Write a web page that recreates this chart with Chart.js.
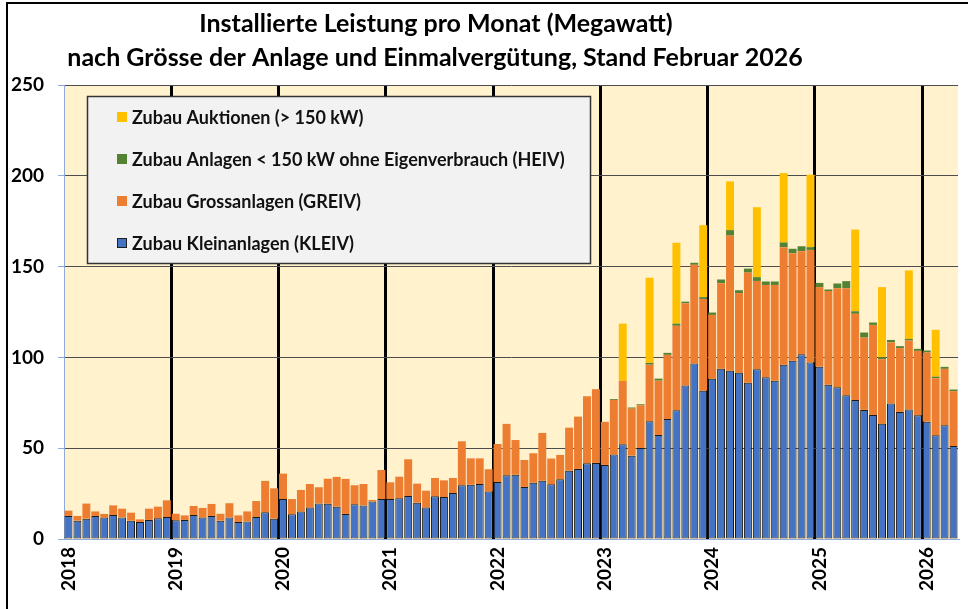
<!DOCTYPE html>
<html>
<head>
<meta charset="utf-8">
<script src="https://cdn.jsdelivr.net/npm/chart.js@4"></script>
<style>
  html, body { margin: 0; background: #fff; }
  canvas { display: block; }
</style>
</head>
<body>
<canvas id="pvChart" width="968" height="609"></canvas>
<script>
// Monthly additions in MW, Jan 2018 .. Apr 2026 (one row per year)
const years = [2018, 2019, 2020, 2021, 2022, 2023, 2024, 2025, 2026];

const kleiv = [
  12.7, 10.1, 11.2, 12.7, 11.8, 13.2, 11.9, 10.1, 9.4, 10.5, 11.4, 12.1,
  10.3, 10.5, 13.2, 11.8, 12.7, 10.1, 11.9, 9.4, 9.7, 12.1, 14.7, 11.2,
  22.0, 13.6, 15.1, 17.3, 19.6, 19.4, 17.8, 13.8, 19.1, 18.5, 20.7, 22.0,
  22.0, 22.4, 23.7, 20.0, 17.3, 23.5, 23.1, 25.3, 29.6, 29.9, 30.3, 26.1,
  31.4, 35.1, 35.4, 28.7, 31.0, 32.1, 30.1, 32.9, 37.6, 38.6, 41.7, 41.9,
  40.8, 46.5, 52.2, 45.9, 50.1, 64.8, 57.3, 66.1, 70.9, 84.5, 96.6, 81.7,
  88.2, 93.8, 92.6, 91.5, 86.1, 93.5, 89.1, 87.1, 95.9, 98.1, 101.7, 97.2,
  94.9, 85.0, 83.6, 79.2, 76.6, 71.1, 68.3, 63.4, 74.6, 70.0, 71.3, 68.1,
  64.6, 57.1, 62.6, 51.2
];

const greiv = [
  2.9, 2.6, 8.3, 2.5, 2.0, 5.3, 4.8, 4.4, 1.4, 6.2, 6.4, 9.2,
  3.6, 2.5, 5.0, 5.3, 6.6, 3.8, 7.8, 3.6, 5.5, 8.8, 17.3, 16.7,
  14.0, 8.4, 11.9, 13.0, 8.9, 13.8, 16.4, 19.3, 10.5, 11.8, 0.8, 16.0,
  9.2, 11.9, 20.2, 10.5, 9.3, 10.1, 9.2, 8.3, 24.2, 14.5, 14.1, 12.3,
  20.9, 28.3, 19.1, 14.8, 16.2, 26.3, 14.2, 13.4, 23.7, 28.8, 36.9, 40.6,
  23.7, 30.1, 34.9, 25.9, 23.5, 31.2, 29.9, 35.3, 46.5, 45.3, 54.4, 50.5,
  35.2, 47.1, 74.5, 43.9, 60.6, 48.6, 50.8, 52.8, 64.8, 59.3, 56.8, 62.0,
  43.8, 51.5, 54.5, 58.9, 47.4, 39.8, 49.6, 35.6, 33.7, 35.1, 38.0, 35.5,
  38.1, 31.4, 31.1, 30.2
];

const heiv = [
  0, 0, 0, 0, 0, 0, 0, 0, 0, 0, 0, 0,
  0, 0, 0, 0, 0, 0, 0, 0, 0, 0, 0, 0,
  0, 0, 0, 0, 0, 0, 0, 0, 0, 0, 0, 0,
  0, 0, 0, 0, 0, 0, 0, 0, 0, 0, 0, 0,
  0, 0, 0, 0, 0, 0, 0, 0, 0, 0, 0, 0,
  0, 0.5, 0, 0.6, 0.6, 1.0, 1.1, 1.1, 1.2, 0.9, 1.1, 1.0,
  1.3, 2.0, 3.0, 1.6, 2.2, 2.1, 1.9, 1.9, 2.6, 2.4, 2.7, 1.5,
  2.3, 0.9, 2.6, 3.9, 1.4, 2.8, 1.3, 1.1, 1.3, 1.1, 0.9, 1.1,
  1.1, 0.9, 1.1, 0.9
];

const auktionen = [
  0, 0, 0, 0, 0, 0, 0, 0, 0, 0, 0, 0,
  0, 0, 0, 0, 0, 0, 0, 0, 0, 0, 0, 0,
  0, 0, 0, 0, 0, 0, 0, 0, 0, 0, 0, 0,
  0, 0, 0, 0, 0, 0, 0, 0, 0, 0, 0, 0,
  0, 0, 0, 0, 0, 0, 0, 0, 0, 0, 0, 0,
  0, 0, 31.5, 0, 0, 46.8, 0, 0, 44.5, 0, 0, 39.6,
  0, 0, 26.8, 0, 0, 38.5, 0, 0, 38.2, 0, 0, 39.9,
  0, 0, 0, 0, 45.0, 0, 0, 38.6, 0, 0, 37.7, 0,
  0, 25.8, 0, 0
];

const seriesNames = [
  'Zubau Kleinanlagen (KLEIV)',
  'Zubau Grossanlagen (GREIV)',
  'Zubau Anlagen < 150 kW ohne Eigenverbrauch (HEIV)',
  'Zubau Auktionen (> 150 kW)'
];

const titleLines = [
  'Installierte Leistung pro Monat (Megawatt)',
  'nach Grösse der Anlage und Einmalvergütung, Stand Februar 2026'
];

// month categories "2018-01" ...
const months = years.flatMap(y =>
  ['01','02','03','04','05','06','07','08','09','10','11','12'].map(m => y + '-' + m)
).slice(0, kleiv.length);

const FONT = 'Lato, "Open Sans", sans-serif';
const AXIS_BLUE = '#8EA9DB';

// plot background + white page
const plotBg = {
  id: 'plotBg',
  beforeDraw(chart) {
    const { ctx, chartArea: a } = chart;
    ctx.save();
    ctx.fillStyle = '#fff';
    ctx.fillRect(0, 0, chart.width, chart.height);
    ctx.fillStyle = '#FFF2CC';
    ctx.fillRect(a.left, a.top, a.right - a.left, a.bottom - a.top);
    ctx.restore();
  }
};

// frame, title and boxed legend
const decorations = {
  id: 'decorations',
  afterDraw(chart) {
    const ctx = chart.ctx;
    ctx.save();

    ctx.strokeStyle = '#000';
    ctx.lineWidth = 2;
    ctx.beginPath();
    ctx.moveTo(7, chart.height);
    ctx.lineTo(7, 3);
    ctx.lineTo(chart.width, 3);
    ctx.stroke();

    ctx.fillStyle = '#000';
    ctx.textAlign = 'center';
    ctx.textBaseline = 'middle';
    ctx.font = 'bold 25px ' + FONT;
    ctx.fillText(titleLines[0], 436, 24);
    ctx.fillText(titleLines[1], 435, 58);

    // legend box
    ctx.fillStyle = '#F2F2F2';
    ctx.fillRect(87, 96, 504, 168);
    ctx.strokeStyle = '#333';
    ctx.lineWidth = 1.5;
    ctx.strokeRect(87.5, 96.5, 503, 167);

    ctx.textAlign = 'left';
    ctx.font = 'bold 18px ' + FONT;
    chart.data.datasets.slice().reverse().forEach((ds, i) => {
      const y = 117 + i * 42;
      ctx.fillStyle = ds.backgroundColor;
      ctx.fillRect(117, y - 5, 10, 10);
      if (ds.borderWidth) {
        ctx.strokeStyle = '#1f1f1f';
        ctx.lineWidth = 1;
        ctx.strokeRect(117.5, y - 4.5, 9, 9);
      }
      ctx.fillStyle = '#111';
      ctx.fillText(ds.label, 132, y + 1);
    });

    ctx.restore();
  }
};

const barCommon = { barPercentage: 1.0, categoryPercentage: 0.89 };

new Chart(document.getElementById('pvChart'), {
  type: 'bar',
  data: {
    labels: months,
    datasets: [
      { label: seriesNames[0], data: kleiv, backgroundColor: '#4472C4', borderColor: '#1a1a1a', borderWidth: 1, borderSkipped: false, ...barCommon },
      { label: seriesNames[1], data: greiv, backgroundColor: '#ED7D31', borderWidth: 0, ...barCommon },
      { label: seriesNames[2], data: heiv, backgroundColor: '#548235', borderWidth: 0, ...barCommon },
      { label: seriesNames[3], data: auktionen, backgroundColor: '#FFC000', borderWidth: 0, ...barCommon }
    ]
  },
  options: {
    responsive: false,
    animation: false,
    layout: { padding: { left: 0, right: 10, top: 85, bottom: 0 } },
    plugins: {
      legend: { display: false },
      title: { display: false },
      tooltip: { enabled: false }
    },
    scales: {
      x: {
        stacked: true,
        offset: true,
        grid: {
          offset: true,
          color: c => (c.index > 0 && c.index % 12 === 0) ? '#000' : 'rgba(0,0,0,0)',
          lineWidth: 3,
          drawTicks: false
        },
        border: { color: AXIS_BLUE, width: 1 },
        ticks: {
          autoSkip: false,
          maxRotation: 90,
          minRotation: 90,
          padding: 8,
          color: '#000',
          font: { family: FONT, size: 19, weight: 'bold' },
          callback: (v, i) => i % 12 === 0 ? months[i].slice(0, 4) : ''
        },
        afterFit: s => { s.height = 70; s.paddingLeft = 0; s.paddingRight = 0; }
      },
      y: {
        stacked: true,
        min: 0,
        max: 250,
        ticks: {
          stepSize: 50,
          padding: 14,
          color: '#000',
          font: { family: FONT, size: 19, weight: 'bold' }
        },
        grid: {
          color: c => c.tick && c.tick.value === 0 ? AXIS_BLUE : '#4d4d4d',
          lineWidth: 1,
          tickLength: 6,
          tickColor: AXIS_BLUE
        },
        border: { color: AXIS_BLUE, width: 1 },
        afterFit: s => { s.width = 64; s.paddingTop = 0; s.paddingBottom = 0; }
      }
    }
  },
  plugins: [plotBg, decorations]
});
</script>
</body>
</html>
